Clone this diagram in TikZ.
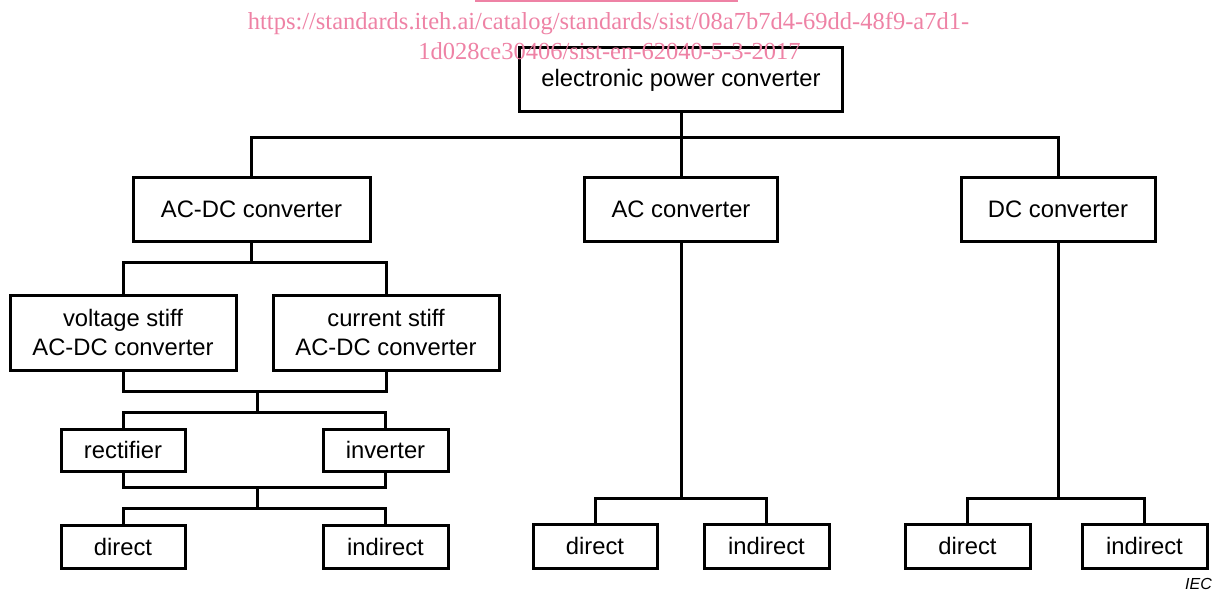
\documentclass[tikz,border=0pt]{standalone}
\usepackage{fontspec}
\setmainfont{Liberation Sans}
\newfontfamily\wmfont{Liberation Serif}
\definecolor{wmpink}{RGB}{238,130,165}
\tikzset{
  box/.style={draw, line width=3pt, inner sep=0pt, align=center,
    font=\fontsize{23.8}{29}\selectfont},
  conn/.style={line width=3pt},
  wm/.style={text=wmpink, font=\wmfont\fontsize{24.5}{30}\selectfont, inner sep=0pt, anchor=base}
}
\begin{document}
\begin{tikzpicture}[x=1pt,y=-1pt]
\useasboundingbox (0,0) rectangle (1214,591);
% boxes
\node[box, minimum width=323pt, minimum height=64pt] (epc) at (681,80) {electronic power converter};
\node[box, minimum width=237pt, minimum height=64pt] (acdc) at (251.5,209) {AC-DC converter};
\node[box, minimum width=193pt, minimum height=64pt] (ac) at (681,209) {AC converter};
\node[box, minimum width=194pt, minimum height=64pt] (dc) at (1058,209) {DC converter};
\node[box, minimum width=226pt, minimum height=75pt] (vs) at (123,332.5) {voltage stiff\\AC-DC converter};
\node[box, minimum width=226pt, minimum height=75pt] (cs) at (386,332.5) {current stiff\\AC-DC converter};
\node[box, minimum width=124pt, minimum height=42pt] (rect) at (123,450) {rectifier};
\node[box, minimum width=125pt, minimum height=42pt] (inv) at (385.5,450) {inverter};
\node[box, minimum width=124pt, minimum height=43pt] (d1) at (123,546.5) {direct};
\node[box, minimum width=125pt, minimum height=43pt] (i1) at (385.5,546.5) {indirect};
\node[box, minimum width=124pt, minimum height=44pt] (d2) at (595,546) {direct};
\node[box, minimum width=125pt, minimum height=44pt] (i2) at (766.5,546) {indirect};
\node[box, minimum width=125pt, minimum height=44pt] (d3) at (967.5,546) {direct};
\node[box, minimum width=125pt, minimum height=44pt] (i3) at (1144.5,546) {indirect};
% junction coordinates
\coordinate (b1) at (681,137);
\coordinate (b2) at (251.5,262);
\coordinate (b3) at (257,391);
\coordinate (b4) at (257,412);
\coordinate (b5) at (257,487);
\coordinate (b6) at (257,508);
\coordinate (b7) at (681,498);
\coordinate (b8) at (1058,498);
% connectors
\draw[conn] (epc.south) -- (b1);
\draw[conn] (acdc.north) -- (acdc.north |- b1) -- (dc.north |- b1) -- (dc.north);
\draw[conn] (ac.north) -- (ac.north |- b1);
\draw[conn] (acdc.south) -- (b2);
\draw[conn] (vs.north) -- (vs.north |- b2) -- (cs.north |- b2) -- (cs.north);
\draw[conn] (vs.south) -- (vs.south |- b3) -- (cs.south |- b3) -- (cs.south);
\draw[conn] (b3) -- (b4);
\draw[conn] (rect.north) -- (rect.north |- b4) -- (inv.north |- b4) -- (inv.north);
\draw[conn] (rect.south) -- (rect.south |- b5) -- (inv.south |- b5) -- (inv.south);
\draw[conn] (b5) -- (b6);
\draw[conn] (d1.north) -- (d1.north |- b6) -- (i1.north |- b6) -- (i1.north);
\draw[conn] (ac.south) -- (b7);
\draw[conn] (d2.north) -- (d2.north |- b7) -- (i2.north |- b7) -- (i2.north);
\draw[conn] (dc.south) -- (b8);
\draw[conn] (d3.north) -- (d3.north |- b8) -- (i3.north |- b8) -- (i3.north);
% IEC label
\node[anchor=base east, inner sep=0pt, font=\fontsize{16}{19}\selectfont\itshape] (iec) at (1212,589) {IEC};
% watermark
\coordinate (ul1) at (475,1);
\coordinate (ul2) at (738,1);
\draw[wmpink, line width=1.5pt] (ul1) -- (ul2);
\node[wm] (wm1) at (608.5,30) {https://standards.iteh.ai/catalog/standards/sist/08a7b7d4-69dd-48f9-a7d1-};
\node[wm] (wm2) at (609.5,60) {1d028ce30406/sist-en-62040-5-3-2017};
\end{tikzpicture}
\end{document}
